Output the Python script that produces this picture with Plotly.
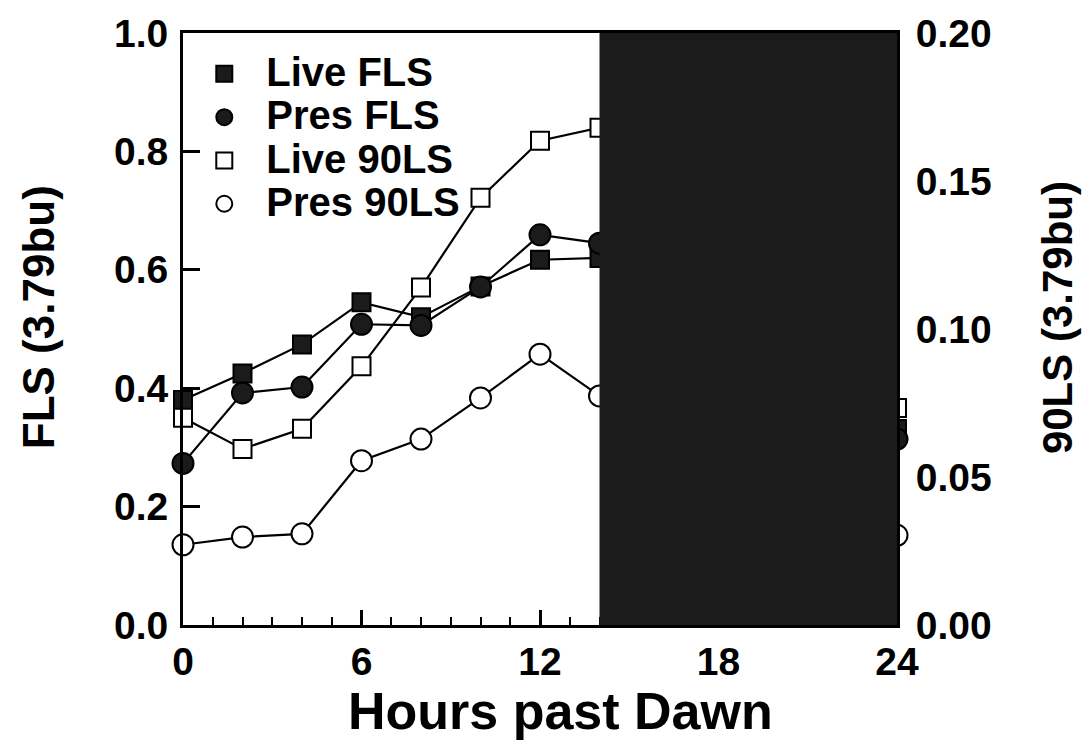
import plotly.graph_objects as go

# ---------------- data ----------------
hours = [0, 2, 4, 6, 8, 10, 12, 14, 24]
live_fls = [0.380, 0.425, 0.474, 0.545, 0.520, 0.572, 0.617, 0.620, 0.331]
pres_fls = [0.273, 0.392, 0.402, 0.508, 0.506, 0.571, 0.659, 0.645, 0.314]
live_90ls = [0.0700, 0.0595, 0.0663, 0.0874, 0.1140, 0.1443, 0.1636, 0.1680, 0.0733]
pres_90ls = [0.0271, 0.0297, 0.0308, 0.0555, 0.0628, 0.0767, 0.0915, 0.0774, 0.0303]
dark_start, dark_end = 14, 24

x_ticks = [0, 6, 12, 18, 24]
left_ticks = [0.0, 0.2, 0.4, 0.6, 0.8, 1.0]
right_ticks = [0.00, 0.05, 0.10, 0.15, 0.20]

FONT = "Liberation Sans"
DARK = "#1b1b1b"

series = [
    ("Live FLS", live_fls, "y", "square", DARK, 18),
    ("Pres FLS", pres_fls, "y", "circle", DARK, 21),
    ("Live 90LS", live_90ls, "y2", "square", "white", 18),
    ("Pres 90LS", pres_90ls, "y2", "circle", "white", 21),
]

fig = go.Figure()

# connecting lines first
for name, vals, ax, sym, fill, size in series:
    fig.add_trace(go.Scatter(
        x=hours, y=vals, yaxis=ax, mode="lines",
        line=dict(color="black", width=2.2),
        showlegend=False, hoverinfo="skip", cliponaxis=False,
    ))

# markers on top
for name, vals, ax, sym, fill, size in series:
    fig.add_trace(go.Scatter(
        x=hours, y=vals, yaxis=ax, mode="markers",
        name=f'<span style="font-size:40px">{name}</span>',
        marker=dict(symbol=sym, size=size, color=fill,
                    line=dict(color="black", width=2)),
        cliponaxis=False,
    ))

# dark period (night)
fig.add_shape(type="rect", xref="x", yref="paper",
              x0=dark_start, x1=dark_end, y0=0, y1=1,
              fillcolor=DARK, line=dict(width=0), layer="above")

tickfont = dict(family=FONT, size=39, color="black", weight="bold")

fig.update_layout(
    width=1085, height=749,
    margin=dict(l=183, r=188, t=30, b=124),
    paper_bgcolor="white", plot_bgcolor="white",
    font=dict(family=FONT, color="black"),
    showlegend=True,
    legend=dict(
        x=-0.001, y=0.976, xanchor="left", yanchor="top",
        bgcolor="rgba(0,0,0,0)", borderwidth=0,
        font=dict(family=FONT, size=31, color="black", weight="bold"),
        itemwidth=74, tracegroupgap=0,
    ),
    xaxis=dict(
        range=[0, 24], tickvals=x_ticks, ticktext=[str(v) for v in x_ticks],
        ticks="inside", ticklen=15, tickwidth=2.5, tickcolor="black",
        minor=dict(dtick=1, ticks="inside", ticklen=8, tickwidth=2, tickcolor="black"),
        showline=True, linecolor="black", linewidth=3, mirror=True,
        showgrid=False, zeroline=False,
        tickfont=tickfont,
        ticklabelstandoff=0,
    ),
    xaxis2=dict(
        range=[0, 24], overlaying="x", side="top", anchor="y",
        tickvals=x_ticks, ticks="inside", ticklen=15, tickwidth=2.5,
        tickcolor="black", showticklabels=False, showline=False,
        showgrid=False, zeroline=False,
    ),
    yaxis=dict(
        range=[0, 1], tickvals=left_ticks,
        ticktext=[f"{v:.1f}" for v in left_ticks],
        ticks="inside", ticklen=17, tickwidth=2.5, tickcolor="black",
        showline=True, linecolor="black", linewidth=3,
        showgrid=False, zeroline=False,
        tickfont=tickfont,
        ticklabelstandoff=4,
    ),
    yaxis2=dict(
        range=[0, 0.2], overlaying="y", side="right", anchor="x",
        tickvals=right_ticks, ticktext=[f"{v:.2f}" for v in right_ticks],
        ticks="inside", ticklen=17, tickwidth=2.5, tickcolor="black",
        showline=True, linecolor="black", linewidth=3,
        showgrid=False, zeroline=False,
        tickfont=tickfont,
        ticklabelstandoff=8,
    ),
)

# axis titles
fig.add_annotation(text="Hours past Dawn", xref="paper", yref="paper",
                   x=0.529, y=-0.145, xanchor="center", yanchor="middle",
                   showarrow=False,
                   font=dict(family=FONT, size=52, color="black", weight="bold"))
fig.add_annotation(text="FLS (3.79bu)", xref="paper", yref="paper",
                   x=-0.203, y=0.52, xanchor="center", yanchor="middle",
                   textangle=-90, showarrow=False,
                   font=dict(family=FONT, size=44, color="black", weight="bold"))
fig.add_annotation(text="90LS (3.79bu)", xref="paper", yref="paper",
                   x=1.224, y=0.52, xanchor="center", yanchor="middle",
                   textangle=-90, showarrow=False,
                   font=dict(family=FONT, size=42, color="black", weight="bold"))

fig.write_html("out.html")
